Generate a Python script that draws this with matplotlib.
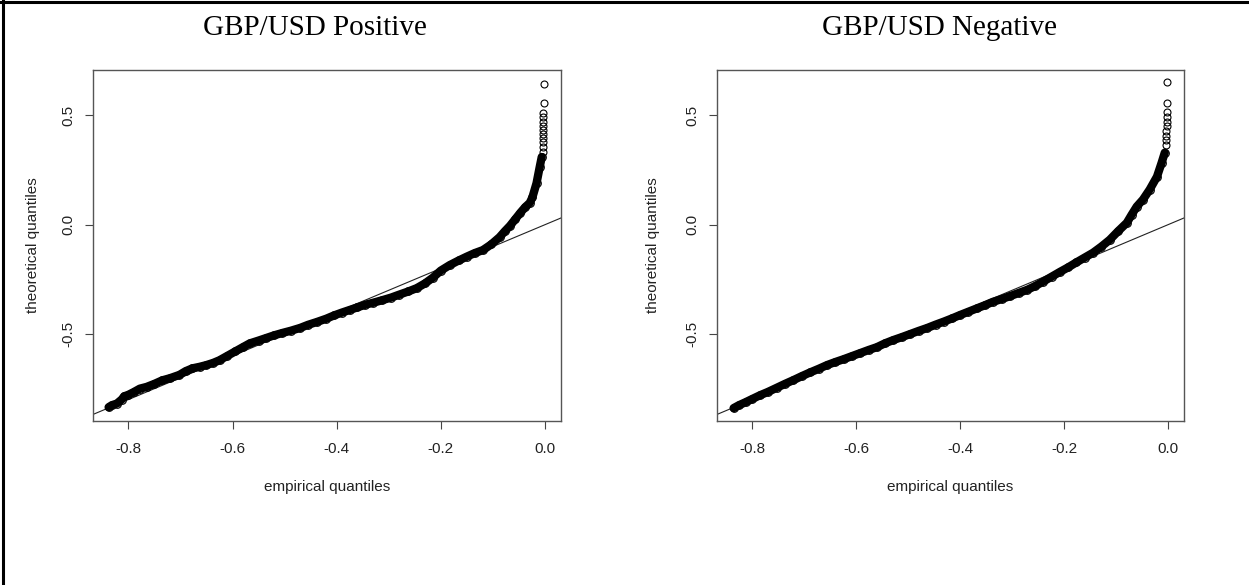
import matplotlib
matplotlib.use("Agg")
import matplotlib.pyplot as plt
from matplotlib.lines import Line2D

# ---------------- data ----------------
titles = ["GBP/USD Positive", "GBP/USD Negative"]
x_label = "empirical quantiles"
y_label = "theoretical quantiles"
x_ticks = [-0.8, -0.6, -0.4, -0.2, 0.0]
x_tick_labels = ["-0.8", "-0.6", "-0.4", "-0.2", "0.0"]
y_ticks = [-0.5, 0.0, 0.5]
y_tick_labels = ["-0.5", "0.0", "0.5"]

# reference line (intercept, slope)
ref_intercept = 0.0
ref_slope = 1.0

# Positive panel: dense body of the Q-Q cloud
pos_band_x = [-0.838, -0.832, -0.822, -0.813, -0.808, -0.800, -0.790, -0.778, -0.765, -0.750,
              -0.735, -0.720, -0.702, -0.690, -0.677, -0.663, -0.650, -0.637, -0.625, -0.610,
              -0.595, -0.580, -0.567, -0.550, -0.535, -0.520, -0.504, -0.488, -0.470, -0.455,
              -0.438, -0.420, -0.405, -0.390, -0.375, -0.360, -0.345, -0.330, -0.312, -0.295,
              -0.280, -0.262, -0.246, -0.230, -0.215, -0.200, -0.183, -0.165, -0.150, -0.135,
              -0.119, -0.103, -0.087, -0.077, -0.067, -0.057, -0.047, -0.038, -0.029, -0.024,
              -0.016, -0.010, -0.006]
pos_band_y = [-0.835, -0.826, -0.818, -0.800, -0.785, -0.778, -0.766, -0.750, -0.742, -0.728,
              -0.712, -0.702, -0.687, -0.670, -0.657, -0.650, -0.642, -0.632, -0.620, -0.600,
              -0.580, -0.560, -0.543, -0.530, -0.518, -0.506, -0.495, -0.485, -0.472, -0.458,
              -0.445, -0.430, -0.415, -0.402, -0.390, -0.378, -0.366, -0.357, -0.345, -0.333,
              -0.320, -0.305, -0.290, -0.268, -0.242, -0.210, -0.185, -0.163, -0.146, -0.130,
              -0.116, -0.090, -0.057, -0.030, -0.005, 0.025, 0.055, 0.080, 0.100, 0.125,
              0.190, 0.263, 0.310]
# Positive panel: sparse upper tail
pos_tail_x = [-0.004, -0.004, -0.004, -0.003, -0.003, -0.003, -0.003, -0.003, -0.003, -0.003,
              -0.002, -0.002]
pos_tail_y = [0.331, 0.354, 0.377, 0.395, 0.413, 0.432, 0.450, 0.468, 0.491, 0.509,
              0.555, 0.646]

# Negative panel: dense body
neg_band_x = [-0.836, -0.826, -0.813, -0.800, -0.785, -0.770, -0.753, -0.737, -0.721, -0.705,
              -0.689, -0.672, -0.656, -0.640, -0.624, -0.608, -0.592, -0.576, -0.560, -0.545,
              -0.529, -0.512, -0.496, -0.480, -0.463, -0.447, -0.431, -0.415, -0.400, -0.384,
              -0.368, -0.352, -0.337, -0.320, -0.303, -0.287, -0.271, -0.255, -0.240, -0.224,
              -0.208, -0.192, -0.176, -0.160, -0.144, -0.128, -0.112, -0.096, -0.079, -0.070,
              -0.060, -0.048, -0.035, -0.021, -0.012, -0.006]
neg_band_y = [-0.839, -0.826, -0.812, -0.797, -0.780, -0.765, -0.746, -0.728, -0.711, -0.693,
              -0.676, -0.659, -0.642, -0.628, -0.615, -0.601, -0.587, -0.573, -0.560, -0.543,
              -0.528, -0.514, -0.500, -0.486, -0.472, -0.457, -0.443, -0.428, -0.413, -0.398,
              -0.383, -0.368, -0.353, -0.340, -0.326, -0.312, -0.298, -0.280, -0.260, -0.238,
              -0.216, -0.195, -0.172, -0.150, -0.128, -0.100, -0.069, -0.030, 0.009, 0.045,
              0.083, 0.115, 0.161, 0.220, 0.284, 0.330]
# Negative panel: sparse upper tail
neg_tail_x = [-0.003, -0.003, -0.003, -0.003, -0.002, -0.002, -0.002, -0.002, -0.002, -0.002]
neg_tail_y = [0.367, 0.390, 0.408, 0.427, 0.450, 0.472, 0.495, 0.514, 0.555, 0.651]

panels = [
    (pos_band_x, pos_band_y, pos_tail_x, pos_tail_y),
    (neg_band_x, neg_band_y, neg_tail_x, neg_tail_y),
]

# ---------------- layout ----------------
W, H = 1249, 585
fig = plt.figure(figsize=(W / 100, H / 100), dpi=100)
fig.patch.set_facecolor("white")

sans = ["Liberation Sans", "DejaVu Sans"]
serif = ["Liberation Serif", "DejaVu Serif"]

axes_px = [(93, 561), (717, 1184)]
top_px, bot_px = 70, 421
title_cx = [315, 940]
ylabel_px = [33, 653]

for i, (bx, by, tx, ty) in enumerate(panels):
    l, r = axes_px[i]
    ax = fig.add_axes([l / W, 1 - bot_px / H, (r - l) / W, (bot_px - top_px) / H])
    ax.set_xlim(-0.868, 0.031)
    ax.set_ylim(-0.898, 0.708)

    ax.axline((0.0, ref_intercept), slope=ref_slope, color="#222222", lw=0.8, zorder=2)
    ax.plot(bx, by, color="black", lw=6.0, solid_capstyle="round", solid_joinstyle="round",
            zorder=3)
    ax.plot(bx, by, linestyle="none", marker="o", ms=5.5, mfc="none", mec="black", mew=0.8,
            zorder=4)
    ax.plot(tx, ty, linestyle="none", marker="o", ms=5, mfc="none", mec="black", mew=0.8,
            zorder=4)

    for s in ax.spines.values():
        s.set_color("#555555")
        s.set_linewidth(1.0)

    ax.set_xticks(x_ticks)
    ax.set_xticklabels(x_tick_labels, fontfamily=sans, fontsize=11, color="#222222")
    ax.set_yticks(y_ticks)
    ax.set_yticklabels(y_tick_labels, fontfamily=sans, fontsize=11, color="#222222",
                       rotation=90, va="center")
    ax.tick_params(axis="both", direction="out", length=5.8, width=0.8, color="#444444")
    ax.tick_params(axis="x", pad=9.5)
    ax.tick_params(axis="y", pad=7)

    ax.set_xlabel(x_label, fontfamily=sans, fontsize=11, color="#222222")
    ax.xaxis.set_label_coords(0.5, -(487 - bot_px) / (bot_px - top_px))
    ax.xaxis.label.set_va("center")
    ax.set_ylabel(y_label, fontfamily=sans, fontsize=11, color="#222222")
    ax.yaxis.set_label_coords((ylabel_px[i] - l) / (r - l), 0.5)
    ax.yaxis.label.set_va("center")

    fig.text(title_cx[i] / W, 1 - 35 / H, titles[i], ha="center", va="baseline",
             fontfamily=serif, fontsize=21, color="black")

# page frame (left and top edges)
fig.add_artist(Line2D([2.5 / W, 2.5 / W], [0, 1], transform=fig.transFigure,
                      color="black", lw=2.2))
fig.add_artist(Line2D([0, 1], [1 - 1.5 / H, 1 - 1.5 / H], transform=fig.transFigure,
                      color="black", lw=2.2))

fig.savefig("out.png", dpi=100, facecolor="white")
